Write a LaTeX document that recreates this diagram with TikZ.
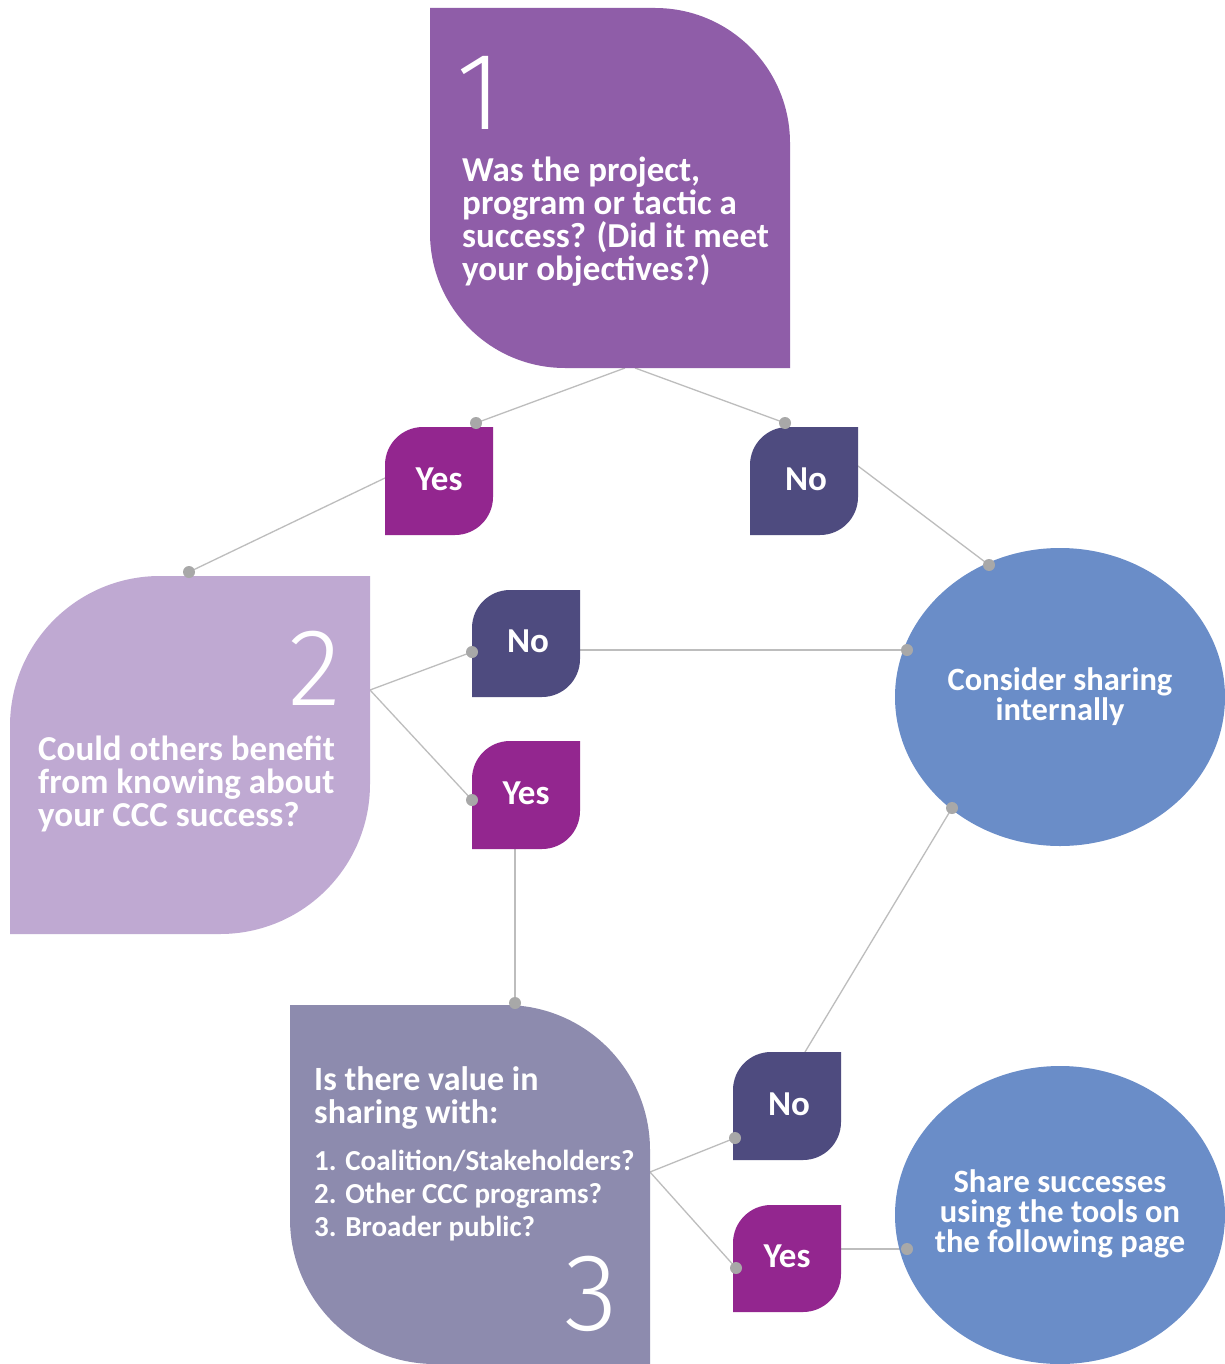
\documentclass[tikz,border=0pt]{standalone}
\usepackage{fontspec}
\setmainfont{Carlito}
\newfontfamily\thinfont{Fira Sans Light}
\usetikzlibrary{shapes.geometric}
\definecolor{boxone}{HTML}{8F5DA8}
\definecolor{boxtwo}{HTML}{BFA9D2}
\definecolor{boxthree}{HTML}{8D8BAE}
\definecolor{yesc}{HTML}{93268F}
\definecolor{noc}{HTML}{4E4B7F}
\definecolor{circc}{HTML}{6A8DC8}
\definecolor{linec}{HTML}{BDBDBD}
\definecolor{dotc}{HTML}{A8A8A8}
% leaf: top-right and bottom-left rounded
\newcommand{\leafA}[6]{\fill[#6] (#1,#2) -- ({#3-#5},#2) .. controls ({#3-0.4477*#5},#2) and (#3,{#2+0.4477*#5}) .. (#3,{#2+#5}) -- (#3,#4) -- ({#1+#5},#4) .. controls ({#1+0.4477*#5},#4) and (#1,{#4-0.4477*#5}) .. (#1,{#4-#5}) -- cycle;}
% leaf: top-left and bottom-right rounded
\newcommand{\leafB}[6]{\fill[#6] (#1,{#2+#5}) .. controls (#1,{#2+0.4477*#5}) and ({#1+0.4477*#5},#2) .. ({#1+#5},#2) -- (#3,#2) -- (#3,{#4-#5}) .. controls (#3,{#4-0.4477*#5}) and ({#3-0.4477*#5},#4) .. ({#3-#5},#4) -- (#1,#4) -- cycle;}
\tikzset{
  conn/.style={draw=linec, line width=1.3pt},
  dotmark/.style={fill=dotc},
  qtext/.style={text=white, font=\fontsize{35}{33}\selectfont\bfseries, align=left, inner sep=0pt, anchor=base west},
  qtextb/.style={text=white, font=\fontsize{34}{33}\selectfont\bfseries, align=left, inner sep=0pt, anchor=base west},
  listtext/.style={text=white, font=\fontsize{29}{33}\selectfont\bfseries, align=left, inner sep=0pt, anchor=base west},
  ctext/.style={text=white, font=\fontsize{32.5}{30}\selectfont\bfseries, align=center, inner sep=0pt},
  yn/.style={text=white, font=\fontsize{35}{33}\selectfont\bfseries, inner sep=0pt},
  bignum/.style={text=white, font=\thinfont\fontsize{110}{110}\selectfont, inner sep=0pt, anchor=base east},
  bubble/.style={ellipse, fill=circc, inner sep=0pt, minimum width=330pt, minimum height=298pt}
}
\begin{document}
\begin{tikzpicture}[x=1pt,y=-1pt]
\useasboundingbox (0,0) rectangle (1224,1364);
\fill[white] (0,0) rectangle (1224,1364);
% coordinates
\coordinate (b1l) at (625,368);
\coordinate (b1r) at (635,368);
\coordinate (d1) at (476,423);
\coordinate (d2) at (785,423);
\coordinate (y1l) at (385,478);
\coordinate (d3) at (189,572);
\coordinate (n1r) at (858,466);
\coordinate (d4) at (989,565);
\coordinate (b2r) at (370,690);
\coordinate (d5) at (472,652);
\coordinate (d6) at (472,800);
\coordinate (n2r) at (580,650);
\coordinate (d7) at (907,650);
\coordinate (y2b) at (515,849);
\coordinate (d8) at (515,1003);
\coordinate (d9) at (952,808);
\coordinate (n3t) at (805,1052);
\coordinate (b3r) at (650,1172);
\coordinate (d10) at (735,1138);
\coordinate (d11) at (736,1268);
\coordinate (y3r) at (841,1249);
\coordinate (d12) at (907,1249);
% connectors
\draw[conn] (b1l) -- (d1);
\draw[conn] (b1r) -- (d2);
\draw[conn] (y1l) -- (d3);
\draw[conn] (n1r) -- (d4);
\draw[conn] (b2r) -- (d5);
\draw[conn] (b2r) -- (d6);
\draw[conn] (n2r) -- (d7);
\draw[conn] (y2b) -- (d8);
\draw[conn] (d9) -- (n3t);
\draw[conn] (b3r) -- (d10);
\draw[conn] (b3r) -- (d11);
\draw[conn] (y3r) -- (d12);
% big boxes
\leafA{430}{8}{790}{368}{135}{boxone}
\leafB{10}{576}{370}{934}{150}{boxtwo}
\leafA{290}{1005}{650}{1364}{145}{boxthree}
% small boxes
\leafB{385}{427}{493}{535}{38}{yesc}
\leafB{750}{427}{858}{535}{38}{noc}
\leafB{472}{590}{580}{697}{38}{noc}
\leafB{472}{741}{580}{849}{38}{yesc}
\leafB{733}{1052}{841}{1160}{38}{noc}
\leafB{733}{1205}{841}{1312}{38}{yesc}
% bubbles
\node[bubble] (c1) at (1060,697) {};
\node[bubble] (c2) at (1060,1215) {};
% dots
\foreach \d in {d1,d2,d3,d4,d5,d6,d7,d8,d9,d10,d11,d12} \fill[dotmark] (\d) circle (6);
% texts
\node[bignum, anchor=base west] (n1) at (456,130) {1};
\node[qtext] (t1) at (462,280) {Was the project,\\program or tactic a\\success? (Did it meet\\your objectives?)};
\node[bignum] (n2) at (341,705) {2};
\node[qtext] (t2) at (38,826) {Could others benefit\\from knowing about\\your CCC success?};
\node[qtextb] (t3) at (314,1123) {Is there value in\\sharing with:};
\node[listtext] (t3l) at (314,1236) {1. Coalition/Stakeholders?\\2. Other CCC programs?\\3. Broader public?};
\node[bignum] (n3) at (618,1330) {3};
\node[yn] (yes1) at (439,479) {Yes};
\node[yn] (no1) at (806,479) {No};
\node[yn] (no2) at (528,641) {No};
\node[yn] (yes2) at (526,793) {Yes};
\node[yn] (no3) at (789,1104) {No};
\node[yn] (yes3) at (787,1256) {Yes};
\node[ctext] at (c1) {Consider sharing\\internally};
\node[ctext] at ([yshift=1pt]c2.center) {Share successes\\using the tools on\\the following page};
\end{tikzpicture}
\end{document}
